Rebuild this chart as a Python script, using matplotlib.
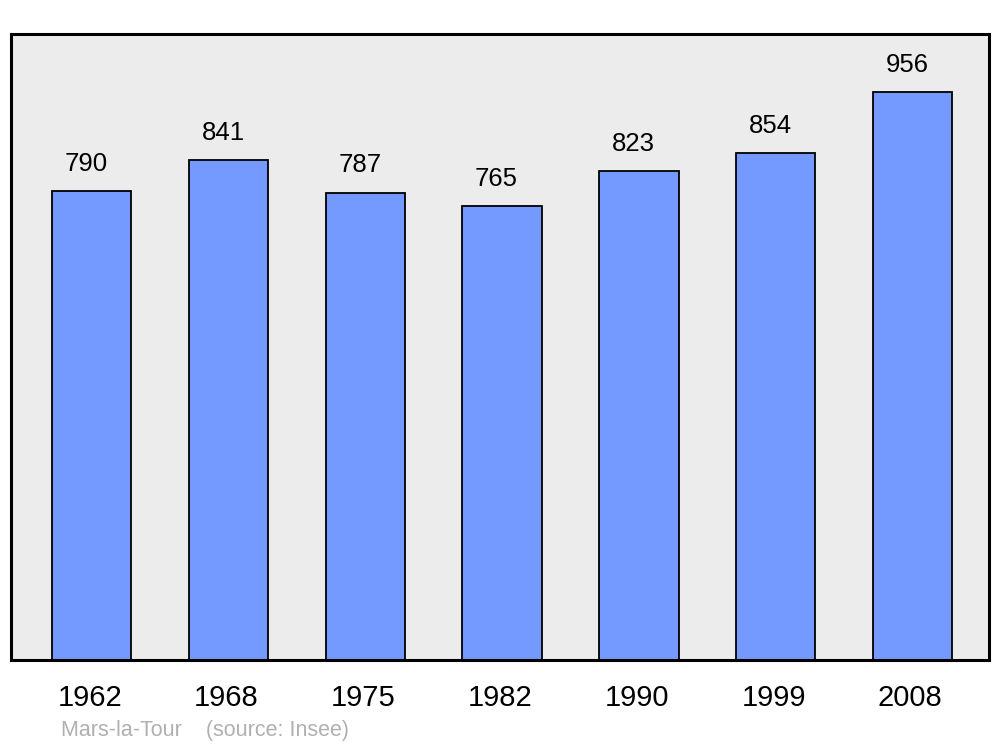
import matplotlib.pyplot as plt

years = ['1962', '1968', '1975', '1982', '1990', '1999', '2008']
population = [790, 841, 787, 765, 823, 854, 956]

plt.rcParams['font.family'] = ['Liberation Sans', 'DejaVu Sans']

fig = plt.figure(figsize=(10, 7.47), dpi=100)
ax = fig.add_axes([0.011, 0.1165, 0.978, 0.838])
ax.set_facecolor('#ececec')

x = range(len(years))
bars = ax.bar(x, population, width=0.58, color='#7499ff', edgecolor='black', linewidth=1.3)
for xi, v in zip(x, population):
    ax.annotate(str(v), (xi - 0.04, v), xytext=(0, 19.5), textcoords='offset points',
                ha='center', va='center', fontsize=18.5)

ax.set_xlim(-0.59, 6.56)
ax.set_ylim(0, 1054)
ax.set_yticks([])
ax.set_xticks([xi - 0.015 for xi in x])
ax.set_xticklabels(years, fontsize=21)
ax.tick_params(axis='x', length=0, pad=17)
for s in ax.spines.values():
    s.set_linewidth(2.2)

fig.text(0.061, 0.0225, 'Mars-la-Tour    (source: Insee)', color='#b0b0b0', fontsize=15.5,
         ha='left', va='center')

fig.savefig('out.png', dpi=100)
